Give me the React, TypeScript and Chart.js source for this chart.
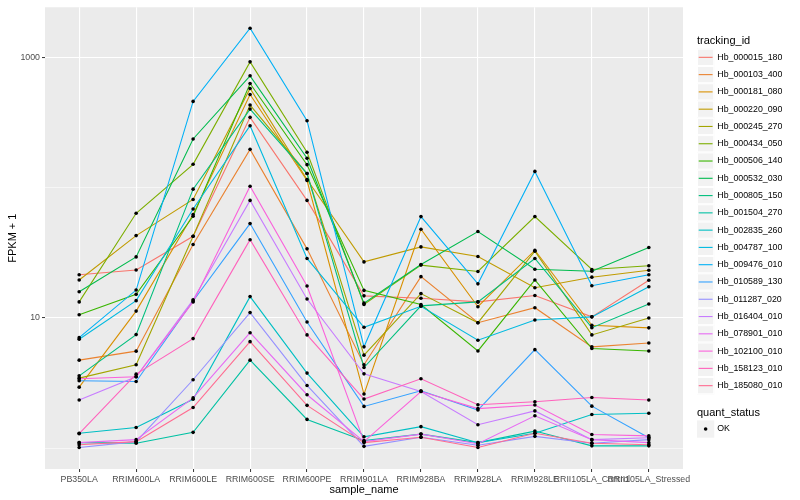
import React, { useEffect, useRef } from 'react';
import { Chart, registerables } from 'chart.js';

Chart.register(...registerables);

const sampleNames = [
  'PB350LA', 'RRIM600LA', 'RRIM600LE', 'RRIM600SE', 'RRIM600PE', 'RRIM901LA',
  'RRIM928BA', 'RRIM928LA', 'RRIM928LE', 'RRII105LA_Control', 'RRII105LA_Stressed',
];

const trackingIds = [
  'Hb_000015_180', 'Hb_000103_400', 'Hb_000181_080', 'Hb_000220_090', 'Hb_000245_270',
  'Hb_000434_050', 'Hb_000506_140', 'Hb_000532_030', 'Hb_000805_150', 'Hb_001504_270',
  'Hb_002835_260', 'Hb_004787_100', 'Hb_009476_010', 'Hb_010589_130', 'Hb_011287_020',
  'Hb_016404_010', 'Hb_078901_010', 'Hb_102100_010', 'Hb_158123_010', 'Hb_185080_010',
];

const seriesColors = [
  '#F8766D', '#EA8331', '#D89000', '#C09B00', '#A3A500', '#7CAE00', '#39B600', '#00BB4E',
  '#00BF7D', '#00C1A3', '#00BFC4', '#00BAE0', '#00B0F6', '#35A2FF', '#9590FF', '#C77CFF',
  '#E76BF3', '#FA62DB', '#FF62BC', '#FF6C91',
];

// FPKM + 1 per sample, one array per tracking_id
const hb000015_180 = [21.5, 23.4, 42.5, 349, 80.2, 14.8, 14.2, 13.3, 14.9, 10.2, 19.5];
const hb000103_400 = [4.74, 5.56, 36.7, 198, 34.0, 4.37, 20.8, 9.2, 12.0, 6.0, 6.43];
const hb000181_080 = [2.94, 11.3, 62.4, 523, 114, 2.6, 48.1, 12.2, 33.2, 8.8, 8.4];
const hb000220_090 = [19.6, 43.0, 81.6, 582, 116, 27.0, 35.2, 29.7, 17.1, 20.6, 23.3];
const hb000245_270 = [3.45, 4.37, 42.5, 434, 129, 5.18, 15.4, 9.2, 32.6, 7.41, 10.0];
const hb000434_050 = [13.3, 63.8, 152, 932, 188, 12.7, 25.5, 22.8, 60.2, 23.6, 25.2];
const hb000506_140 = [10.6, 15.2, 60.5, 635, 151, 16.3, 12.7, 5.58, 19.6, 5.82, 5.58];
const hb000532_030 = [15.9, 29.5, 238, 728, 169, 13.0, 25.8, 46.2, 23.7, 22.9, 34.8];
const hb000805_150 = [3.59, 7.45, 97.9, 404, 129, 4.16, 12.4, 13.3, 28.7, 8.43, 12.8];
const hb001504_270 = [1.10, 1.09, 1.32, 4.74, 1.66, 1.14, 1.28, 1.10, 1.35, 1.04, 1.04];
const hb002835_260 = [1.30, 1.44, 2.37, 14.6, 3.77, 1.22, 1.46, 1.10, 1.30, 1.81, 1.85];
const hb004787_100 = [6.87, 13.6, 68.8, 301, 28.7, 8.49, 12.3, 6.75, 9.66, 10.2, 17.4];
const hb009476_010 = [7.06, 16.4, 463, 1690, 329, 6.0, 60.2, 18.3, 134, 17.7, 21.5];
const hb010589_130 = [3.29, 3.25, 13.5, 53.2, 9.31, 2.09, 2.76, 1.96, 5.71, 2.10, 1.20];
const hb011287_020 = [1.01, 1.12, 3.35, 11.0, 3.03, 1.03, 1.21, 1.05, 1.23, 1.09, 1.16];
const hb016404_010 = [2.34, 3.53, 13.8, 80.2, 14.0, 3.72, 2.72, 1.51, 1.93, 1.16, 1.20];
const hb078901_010 = [1.10, 1.16, 2.43, 7.71, 2.57, 1.12, 1.28, 1.08, 1.77, 1.16, 1.10];
const hb102100_010 = [3.41, 3.53, 13.3, 103, 17.6, 1.12, 2.72, 2.01, 2.14, 1.27, 1.24];
const hb158123_010 = [1.29, 3.70, 6.94, 40.0, 7.41, 2.38, 3.41, 2.15, 2.27, 2.45, 2.34];
const hb185080_010 = [1.06, 1.12, 2.05, 6.58, 2.13, 1.10, 1.21, 1.01, 1.30, 1.09, 1.06];

const seriesValues = [
  hb000015_180, hb000103_400, hb000181_080, hb000220_090, hb000245_270,
  hb000434_050, hb000506_140, hb000532_030, hb000805_150, hb001504_270,
  hb002835_260, hb004787_100, hb009476_010, hb010589_130, hb011287_020,
  hb016404_010, hb078901_010, hb102100_010, hb158123_010, hb185080_010,
];

const yGridValues = [1, 10, 100, 1000];
const yLabelValues = [10, 1000];
const quantStatus = ['OK'];

const FONT = '"Liberation Sans", Arial, Helvetica, sans-serif';

const ggPlugin = {
  id: 'ggDecor',
  beforeDraw(chart: any) {
    const { ctx, chartArea: a, width, height } = chart;
    ctx.save();
    ctx.fillStyle = '#FFFFFF';
    ctx.fillRect(0, 0, width, height);
    ctx.fillStyle = '#EBEBEB';
    ctx.fillRect(a.left, a.top, a.right - a.left, a.bottom - a.top);
    ctx.restore();
  },
  afterDraw(chart: any) {
    const { ctx, chartArea: a } = chart;
    ctx.save();
    // axis titles
    ctx.fillStyle = '#000000';
    ctx.font = `11px ${FONT}`;
    ctx.textAlign = 'center';
    ctx.textBaseline = 'middle';
    ctx.fillText('sample_name', (a.left + a.right) / 2, 490);
    ctx.save();
    ctx.translate(13, (a.top + a.bottom) / 2);
    ctx.rotate(-Math.PI / 2);
    ctx.fillText('FPKM + 1', 0, 0);
    ctx.restore();

    // legend: tracking_id
    const keyX = a.right + 14;
    const keySize = 17.28;
    ctx.textAlign = 'left';
    ctx.textBaseline = 'alphabetic';
    ctx.font = `11px ${FONT}`;
    ctx.fillText('tracking_id', keyX, 44.4);
    const firstTop = 48.7;
    trackingIds.forEach((id, i) => {
      const top = firstTop + i * keySize;
      ctx.fillStyle = '#F2F2F2';
      ctx.fillRect(keyX, top, keySize, keySize);
      ctx.strokeStyle = '#FFFFFF';
      ctx.lineWidth = 1;
      ctx.strokeRect(keyX + 0.5, top + 0.5, keySize - 1, keySize - 1);
      ctx.strokeStyle = seriesColors[i];
      ctx.lineWidth = 1.1;
      ctx.beginPath();
      ctx.moveTo(keyX + 1.7, top + keySize / 2);
      ctx.lineTo(keyX + keySize - 1.7, top + keySize / 2);
      ctx.stroke();
      ctx.fillStyle = '#000000';
      ctx.font = `8.8px ${FONT}`;
      ctx.textBaseline = 'middle';
      ctx.fillText(id, keyX + keySize + 3, top + keySize / 2);
    });

    // legend: quant_status
    ctx.font = `11px ${FONT}`;
    ctx.textBaseline = 'alphabetic';
    ctx.fillStyle = '#000000';
    ctx.fillText('quant_status', keyX, 415.5);
    quantStatus.forEach((q, i) => {
      const top = 420.4 + i * keySize;
      ctx.fillStyle = '#F2F2F2';
      ctx.fillRect(keyX, top, keySize, keySize);
      ctx.fillStyle = '#000000';
      ctx.beginPath();
      ctx.arc(keyX + keySize / 2, top + keySize / 2, 1.8, 0, Math.PI * 2);
      ctx.fill();
      ctx.font = `8.8px ${FONT}`;
      ctx.textBaseline = 'middle';
      ctx.fillText(q, keyX + keySize + 3, top + keySize / 2);
    });
    ctx.restore();
  },
};

export default function App() {
  const ref = useRef<HTMLCanvasElement>(null);

  useEffect(() => {
    const canvas = ref.current;
    if (!canvas) return;

    const lineSets: any[] = seriesValues.map((vals, i) => ({
      type: 'line',
      label: trackingIds[i],
      data: vals.map((v, j) => ({ x: j, y: v })),
      borderColor: seriesColors[i],
      backgroundColor: seriesColors[i],
      borderWidth: 1.1,
      pointRadius: 0,
      fill: false,
      tension: 0,
      order: 100 - i,
    }));

    const pointSet: any = {
      type: 'line',
      label: quantStatus[0],
      data: seriesValues.flatMap((vals) => vals.map((v, j) => ({ x: j, y: v }))),
      showLine: false,
      pointRadius: 1.8,
      pointBackgroundColor: '#000000',
      pointBorderWidth: 0,
      borderColor: '#000000',
      order: 0,
    };

    const chart = new Chart(canvas, {
      type: 'line',
      data: { datasets: [...lineSets, pointSet] },
      plugins: [ggPlugin],
      options: {
        responsive: false,
        animation: false,
        events: [],
        layout: { padding: { top: 5, right: 117, left: 0, bottom: 0 } },
        plugins: { legend: { display: false }, tooltip: { enabled: false } },
        scales: {
          x: {
            type: 'linear',
            min: -0.6,
            max: 10.6,
            afterBuildTicks: (s: any) => {
              s.ticks = sampleNames.map((_, i) => ({ value: i }));
            },
            afterFit: (s: any) => {
              s.height = 31;
            },
            ticks: {
              autoSkip: false,
              maxRotation: 0,
              minRotation: 0,
              color: '#4D4D4D',
              font: { family: FONT, size: 8.8 },
              padding: 2,
              callback: (v: any) => sampleNames[Math.round(Number(v))] ?? '',
            },
            grid: {
              color: '#FFFFFF',
              lineWidth: 1.1,
              tickLength: 3,
              tickColor: '#333333',
              tickWidth: 1,
            },
            border: { display: false },
          },
          y: {
            type: 'logarithmic',
            min: 0.69,
            max: 2450,
            afterBuildTicks: (s: any) => {
              s.ticks = yGridValues.map((v) => ({ value: v }));
            },
            afterFit: (s: any) => {
              s.width = 45;
            },
            ticks: {
              autoSkip: false,
              color: '#4D4D4D',
              font: { family: FONT, size: 8.8 },
              padding: 2,
              callback: (v: any) => (yLabelValues.includes(Number(v)) ? String(v) : ''),
            },
            grid: {
              color: '#FFFFFF',
              lineWidth: (c: any) => (c.tick && yLabelValues.includes(c.tick.value) ? 1.1 : 0.55),
              tickLength: 3,
              tickColor: (c: any) =>
                c.tick && yLabelValues.includes(c.tick.value) ? '#333333' : 'rgba(0,0,0,0)',
              tickWidth: 1,
            },
            border: { display: false },
          },
        },
      } as any,
    });

    return () => chart.destroy();
  }, []);

  return (
    <div style={{ position: 'fixed', left: 0, top: 0, width: 800, height: 500, background: '#fff' }}>
      <canvas ref={ref} width={800} height={500} style={{ display: 'block', width: 800, height: 500 }} />
    </div>
  );
}
